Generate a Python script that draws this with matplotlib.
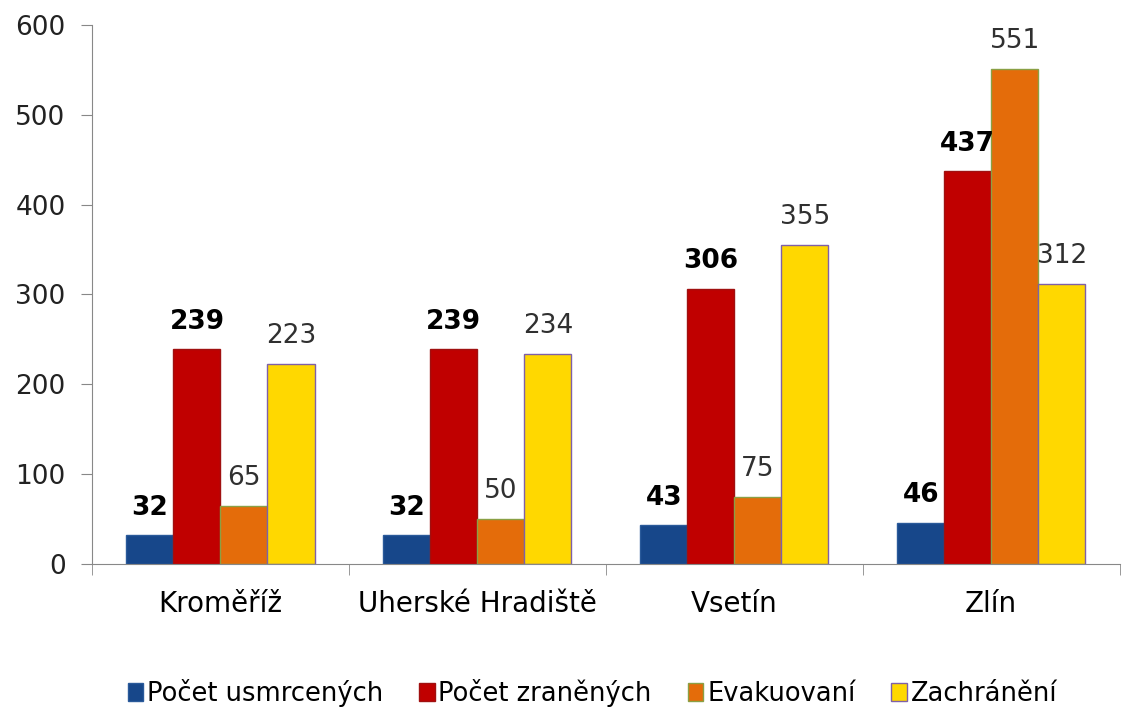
import numpy as np
import matplotlib.pyplot as plt
from matplotlib.ticker import FixedLocator, NullFormatter

plt.rcParams['font.family'] = ['DejaVu Sans']

districts = ["Kroměříž", "Uherské Hradiště", "Vsetín", "Zlín"]
series_names = ["Počet usmrcených", "Počet zraněných", "Evakuovaní", "Zachránění"]
usmrceni = [32, 32, 43, 46]
zraneni = [239, 239, 306, 437]
evakuovani = [65, 50, 75, 551]
zachraneni = [223, 234, 355, 312]

values = [usmrceni, zraneni, evakuovani, zachraneni]
face_colors = ["#17478A", "#C00000", "#E46C0A", "#FFD800"]
edge_colors = ["#2A5A9A", "#A01010", "#8AA045", "#7F60A8"]
bold_labels = [True, True, False, False]

fig = plt.figure(figsize=(11.22, 7.11), dpi=100)
ax = fig.add_axes([0.082, 0.2068, 0.916, 0.758])

x = np.arange(len(districts))
width = 0.183
offsets = (np.arange(4) - 1.5) * width

for i in range(4):
    bars = ax.bar(x + offsets[i], values[i], width, color=face_colors[i],
                  edgecolor=edge_colors[i], linewidth=1, label=series_names[i])
    for b, v in zip(bars, values[i]):
        ax.text(b.get_x() + b.get_width() / 2, v + 23, str(v),
                ha='center', va='baseline', fontsize=19,
                fontweight='bold' if bold_labels[i] else 'normal',
                color='black' if bold_labels[i] else '#303030')

ax.set_xlim(-0.5, len(districts) - 0.5)
ax.set_ylim(0, 600)
ax.set_yticks(range(0, 601, 100))
ax.set_xticks(x)
ax.set_xticklabels(districts, fontsize=20, color='black')
ax.xaxis.set_minor_locator(FixedLocator(np.arange(-0.5, len(districts), 1.0)))
ax.xaxis.set_minor_formatter(NullFormatter())
ax.tick_params(axis='x', which='major', length=0, pad=19)
ax.tick_params(axis='x', which='minor', length=8, color='#888888')
ax.tick_params(axis='y', length=8, color='#888888', labelsize=19, pad=11,
               labelcolor='#222222')

for s in ['top', 'right']:
    ax.spines[s].set_visible(False)
for s in ['left', 'bottom']:
    ax.spines[s].set_color('#888888')

fig.legend(loc='lower center', bbox_to_anchor=(0.528, -0.027), ncol=4,
           frameon=False, fontsize=18.5, handlelength=0.6, handleheight=0.7,
           handletextpad=0.15, columnspacing=1.4)

fig.savefig("out.png", dpi=100)
